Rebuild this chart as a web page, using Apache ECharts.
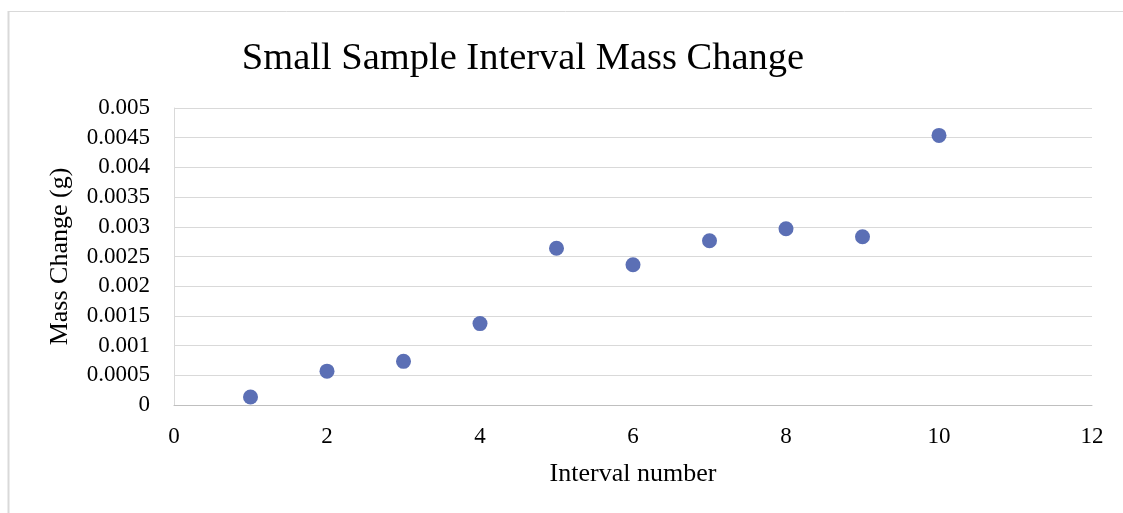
<!DOCTYPE html>
<html>
<head>
<meta charset="utf-8">
<script src="https://cdn.jsdelivr.net/npm/echarts@6/dist/echarts.min.js"></script>
<style>
html,body{margin:0;padding:0;background:#fff;}
#c{width:1123px;height:513px;}
</style>
</head>
<body>
<div id="c"></div>
<script>
const intervals = [1, 2, 3, 4, 5, 6, 7, 8, 9, 10];
const massChange = [0.000134, 0.00057, 0.000735, 0.00137, 0.00264, 0.002362, 0.002766, 0.002968, 0.002833, 0.004539];
const yTickLabels = ['0','0.0005','0.001','0.0015','0.002','0.0025','0.003','0.0035','0.004','0.0045','0.005'];
const xTickLabels = ['0','2','4','6','8','10','12'];

const FONT = '"Liberation Serif", "DejaVu Serif", serif';
const chart = echarts.init(document.getElementById('c'), null, {renderer:'canvas'});
chart.setOption({
  backgroundColor: '#ffffff',
  animation: false,
  title: {
    text: 'Small Sample Interval Mass Change',
    left: 518, top: 34, textAlign: 'center',
    textStyle: {fontFamily: FONT, fontSize: 38.5, fontWeight: 'normal', color: '#000'}
  },
  graphic: [
    {type:'line', shape:{x1:8, y1:11.5, x2:1123, y2:11.5}, style:{stroke:'#d9d9d9', lineWidth:1}},
    {type:'line', shape:{x1:8.5, y1:11, x2:8.5, y2:513}, style:{stroke:'#d9d9d9', lineWidth:2}}
  ],
  grid: {left: 174, right: 31, top: 108, bottom: 108, containLabel: false},
  xAxis: {
    type: 'value', min: 0, max: 12, interval: 2,
    name: 'Interval number', nameLocation: 'middle', nameGap: 56,
    nameTextStyle: {fontFamily: FONT, fontSize: 26, color: '#000'},
    axisLine: {show: true, lineStyle: {color: '#bfbfbf', width: 1}},
    axisTick: {show: false},
    splitLine: {show: false},
    axisLabel: {fontFamily: FONT, fontSize: 23, color: '#000', margin: 20,
      formatter: (v) => { const i = Math.round(v/2); return xTickLabels[i] ?? ''; }}
  },
  yAxis: {
    type: 'value', min: 0, max: 0.005, interval: 0.0005,
    name: 'Mass Change (g)', nameLocation: 'middle', nameGap: 101, nameRotate: 90,
    nameTextStyle: {fontFamily: FONT, fontSize: 26, color: '#000'},
    axisLine: {show: true, lineStyle: {color: '#d9d9d9', width: 1}},
    axisTick: {show: false},
    splitLine: {show: true, lineStyle: {color: '#d9d9d9', width: 1}},
    axisLabel: {fontFamily: FONT, fontSize: 23, color: '#000', margin: 24,
      formatter: (v) => { const i = Math.round(v/0.0005); return yTickLabels[i] ?? ''; }}
  },
  series: [{
    type: 'scatter',
    data: intervals.map((x, i) => [x, massChange[i]]),
    symbol: 'circle', symbolSize: 15,
    itemStyle: {color: '#5b6fb5', opacity: 1}
  }]
});
</script>
</body>
</html>
